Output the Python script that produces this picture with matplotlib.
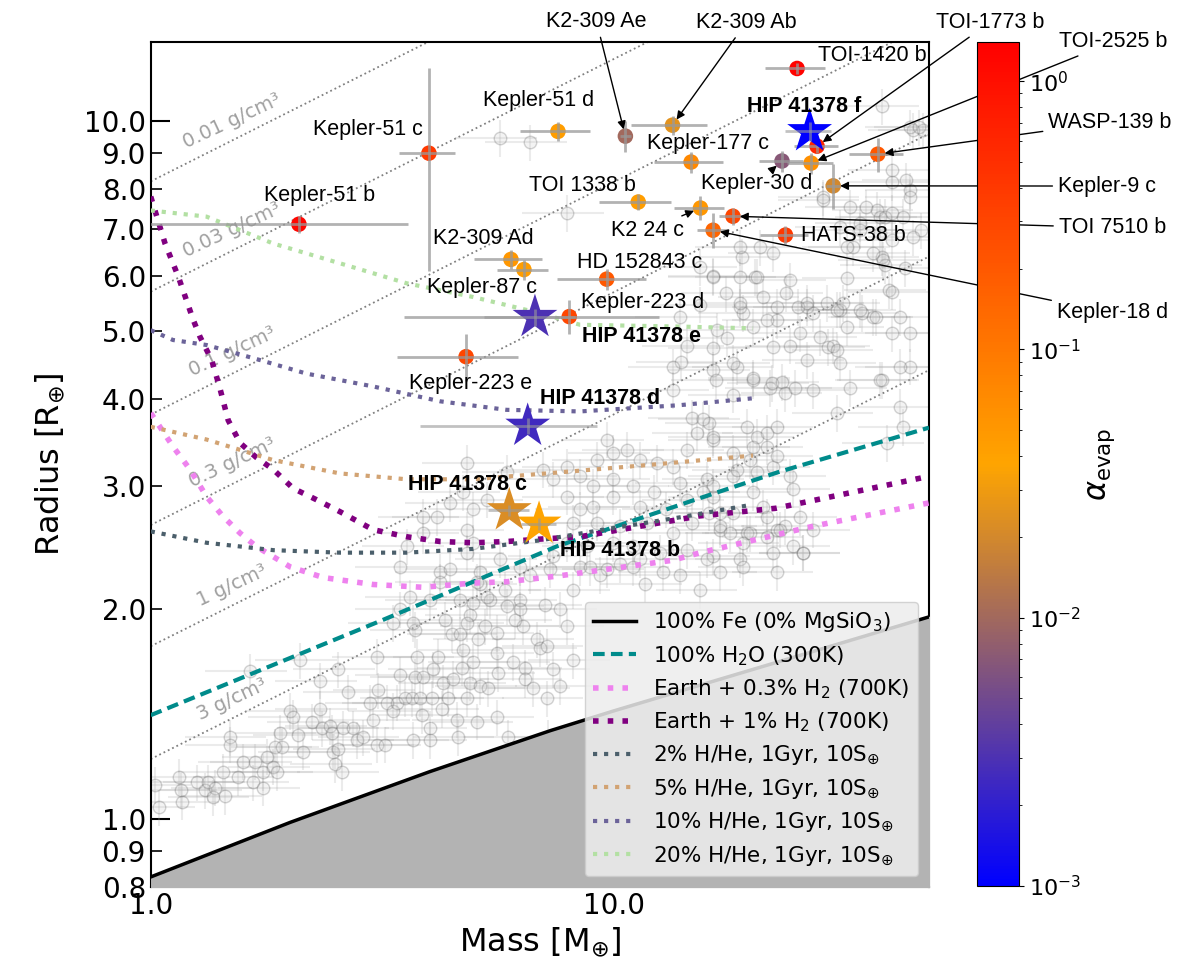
import numpy as np
import matplotlib
matplotlib.use('Agg')
import matplotlib.pyplot as plt
from matplotlib.colors import LinearSegmentedColormap, LogNorm
from matplotlib.cm import ScalarMappable
from matplotlib.ticker import NullFormatter

# ---------------- data ----------------
# composition curves (mass [Me], radius [Re])
fe_mass = [1.0, 2.0, 4.0, 7.3, 10.0, 20.0, 48.0]
fe_radius = [0.827, 0.99, 1.17, 1.34, 1.43, 1.64, 1.95]

h2o_mass = [1.0, 3.17, 7.53, 15.0, 22.9, 48.0]
h2o_radius = [1.41, 1.93, 2.46, 2.87, 3.15, 3.64]

h2_03_mass = [1.0, 1.117, 1.216, 1.32, 1.43, 1.56, 1.69, 2.0, 2.36, 3.02, 3.87, 4.97, 5.89, 7.53, 13.4, 15.4, 27.0, 48.0]
h2_03_radius = [3.82, 3.42, 3.17, 2.90, 2.72, 2.57, 2.46, 2.30, 2.22, 2.17, 2.15, 2.18, 2.19, 2.23, 2.35, 2.41, 2.63, 2.84]

h2_1_mass = [1.0, 1.074, 1.147, 1.236, 1.278, 1.354, 1.41, 1.47, 1.56, 1.69, 1.84, 2.03, 2.28, 2.56, 3.02, 3.57, 4.22, 4.97, 5.87, 6.93, 8.46, 15.3, 22.4, 48.0]
h2_1_radius = [7.8, 6.68, 5.99, 5.19, 4.91, 4.55, 4.15, 3.73, 3.46, 3.30, 3.17, 2.98, 2.87, 2.76, 2.60, 2.54, 2.50, 2.49, 2.50, 2.52, 2.54, 2.72, 2.79, 3.10]

hhe2_mass = [1.0, 1.32, 1.84, 2.56, 3.57, 4.97, 6.93, 9.5, 14.0, 19.7]
hhe2_radius = [2.585, 2.49, 2.43, 2.41, 2.41, 2.44, 2.51, 2.60, 2.71, 2.82]

hhe5_mass = [1.0, 1.32, 1.84, 2.56, 3.57, 4.97, 7.17, 12.0, 20.0]
hhe5_radius = [3.65, 3.50, 3.27, 3.13, 3.07, 3.07, 3.13, 3.22, 3.32]

hhe10_mass = [1.0, 1.117, 1.32, 1.72, 2.17, 3.02, 4.22, 5.87, 8.46, 13.9, 20.0]
hhe10_radius = [5.02, 4.86, 4.78, 4.55, 4.35, 4.17, 3.97, 3.86, 3.84, 3.92, 4.01]

hhe20_mass = [1.0, 1.32, 1.84, 2.56, 3.57, 4.97, 6.93, 8.46, 13.9, 20.0]
hhe20_radius = [7.45, 7.30, 6.68, 6.26, 5.86, 5.60, 5.31, 5.11, 5.08, 5.05]

# iso-density lines: radius at M = 1 and M = 48
density_labels = ['0.01 g/cm³', '0.03 g/cm³', '0.1 g/cm³', '0.3 g/cm³', '1 g/cm³', '3 g/cm³']
density_r_at_1 = [8.2, 5.7, 3.8, 2.64, 1.77, 1.22]
density_r_at_48 = [29.8, 20.7, 13.8, 9.6, 6.4, 4.4]
density_label_mass = 1.5
density_label_radius = [10.0, 6.98, 4.68, 3.24, 2.16, 1.485]

# known planets (grey background)
field_planets = [
    (1.02, 1.12), (1.04, 1.04), (1.15, 1.15), (1.16, 1.10), (1.17, 1.06), (1.26, 1.13), (1.31, 1.10), (1.33, 1.13),
    (1.38, 1.11), (1.36, 1.075), (1.43, 1.17), (1.45, 1.08), (1.48, 1.31), (1.48, 1.28), (1.54, 1.15), (1.58, 1.21),
    (1.66, 1.13), (1.68, 1.21), (1.75, 1.17), (1.75, 1.11), (1.78, 1.23), (1.84, 1.19), (1.86, 1.27), (1.87, 1.17),
    (1.92, 1.27), (1.90, 1.33), (2.0, 1.43), (2.03, 1.40), (2.08, 1.32), (2.13, 1.25), (2.23, 1.38), (2.32, 1.44),
    (2.34, 1.35), (2.44, 1.36), (2.46, 1.33), (2.48, 1.25), (2.50, 1.20), (2.54, 1.26), (2.54, 1.64), (2.59, 1.17),
    (2.60, 1.35), (2.67, 1.52), (2.73, 1.35), (2.79, 1.30), (2.87, 1.31), (2.98, 1.47), (3.02, 1.39), (3.08, 1.28),
    (3.08, 1.71), (3.10, 1.53), (3.20, 1.28), (3.24, 1.47), (3.33, 1.43), (3.40, 1.47), (3.46, 1.61), (3.54, 1.49),
    (3.66, 1.49), (3.68, 1.30), (3.72, 1.60), (3.76, 1.71), (3.82, 1.49), (3.85, 1.41), (3.87, 1.60), (4.01, 1.30),
    (4.01, 1.35), (4.05, 1.49), (4.07, 1.64), (4.17, 1.71), (4.26, 1.44), (4.28, 1.57), (4.38, 1.49), (4.47, 1.84),
    (4.49, 1.59), (4.58, 1.39), (4.60, 1.31), (4.66, 1.84), (4.70, 1.65), (4.73, 1.75), (4.82, 1.49), (4.89, 1.57),
    (4.97, 1.68), (5.06, 1.38), (5.09, 1.81), (5.14, 1.55), (5.27, 1.89), (5.35, 1.54), (5.60, 1.85), (5.60, 1.73),
    (5.60, 1.40), (5.63, 1.62), (5.91, 1.31), (6.06, 1.68), (6.36, 1.89), (6.43, 1.65), (6.43, 1.59), (6.70, 1.54),
    (6.83, 1.81), (6.93, 1.76), (7.21, 1.31), (1.64, 1.63), (2.10, 1.69), (2.32, 1.58), (7.17, 1.77), (8.17, 1.69),
    (7.39, 1.64), (7.66, 1.55), (7.17, 1.49),
    (14.0, 4.52), (16.4, 4.40), (16.6, 4.26), (20.0, 4.26), (21.8, 4.15), (13.4, 4.12), (14.8, 3.76), (16.1, 3.70),
    (19.4, 3.65), (20.4, 3.53), (22.5, 3.65), (21.4, 3.42), (15.1, 3.58), (16.4, 3.50), (9.67, 3.50), (10.7, 3.38),
    (9.97, 3.35), (9.2, 3.27), (11.4, 3.27), (12.4, 3.24), (13.4, 3.20), (14.4, 3.38), (7.93, 3.20), (7.05, 3.17),
    (5.88, 3.14), (8.46, 3.10), (9.97, 3.07), (7.39, 3.07), (9.02, 3.00), (11.0, 3.00), (12.2, 2.94), (13.9, 3.03),
    (15.9, 3.07), (18.1, 3.10), (20.0, 2.94), (22.1, 3.20), (4.82, 3.24), (4.15, 2.71), (4.73, 2.94), (4.97, 2.78),
    (5.32, 2.87), (7.93, 2.90), (8.46, 2.78), (9.02, 2.80), (9.97, 2.90), (11.4, 2.80), (13.0, 2.78), (14.4, 2.87),
    (16.4, 2.90), (18.1, 2.75), (21.0, 2.80), (8.17, 2.66), (9.2, 2.66), (10.3, 2.63), (11.8, 2.66), (13.4, 2.57),
    (14.8, 2.66), (17.0, 2.60), (19.4, 2.57), (7.93, 2.49), (8.76, 2.46), (9.97, 2.49), (11.0, 2.46), (12.6, 2.41),
    (14.4, 2.43), (16.4, 2.38), (18.7, 2.36), (22.1, 2.41), (8.46, 2.30), (9.67, 2.28), (11.0, 2.30), (12.8, 2.26),
    (6.28, 2.30), (7.39, 2.38), (3.58, 2.46), (3.87, 2.57), (3.46, 2.30), (4.22, 2.26), (4.82, 2.41), (5.14, 2.26),
    (7.29, 2.28), (8.17, 2.13), (7.66, 2.0), (7.93, 1.89), (8.89, 2.30), (11.4, 2.36),
    (5.82, 2.13), (6.28, 2.06), (6.6, 2.24), (7.11, 2.03), (6.12, 1.93), (5.68, 2.36), (5.40, 2.06), (5.14, 2.17),
    (4.66, 2.06), (4.89, 1.96), (4.01, 2.06), (4.32, 1.93), (3.72, 1.87), (3.46, 2.0),
    (9.34, 2.24), (10.3, 2.32), (11.7, 2.17), (13.9, 2.24), (15.4, 2.13),
    (3.87, 2.71), (4.43, 2.84), (4.82, 2.60), (4.97, 2.49), (4.22, 2.19), (4.43, 2.28), (5.06, 2.19), (5.32, 2.08),
    (5.88, 2.02), (6.28, 2.0), (4.97, 2.04), (4.82, 1.91), (3.68, 1.91), (3.33, 1.91), (3.63, 2.08),
    (38.0, 10.5), (44.3, 9.7), (46.5, 9.7), (39.9, 8.18), (43.6, 7.96), (43.6, 7.78), (46.1, 6.98), (28.3, 7.78),
    (37.0, 7.46), (37.6, 7.29), (38.6, 7.29), (34.0, 7.15), (44.3, 6.82), (32.9, 6.60), (38.0, 6.39), (38.6, 6.22),
    (42.6, 6.16), (39.4, 5.73), (40.0, 5.70), (31.9, 5.96), (18.9, 6.39), (20.2, 5.98), (16.4, 6.0), (21.0, 5.60),
    (24.0, 5.92), (26.2, 5.42), (25.0, 5.42), (27.0, 5.31), (28.9, 5.49), (30.8, 5.37), (34.4, 5.31), (36.3, 5.24),
    (41.5, 5.24), (43.6, 4.97), (40.0, 4.97), (31.9, 5.07), (29.1, 4.75), (29.8, 4.77), (30.3, 4.70), (25.3, 4.97),
    (24.0, 4.77), (26.2, 4.55), (30.8, 4.51), (27.9, 4.91), (22.5, 5.19), (19.0, 5.31), (22.5, 5.42), (17.6, 4.89),
    (16.4, 4.73), (18.5, 4.45), (20.0, 4.29), (22.0, 4.22), (23.1, 4.23), (23.5, 4.08), (24.7, 4.15), (26.9, 4.12),
    (18.1, 4.06), (43.6, 4.45), (38.0, 4.26), (21.4, 3.58), (20.0, 3.42), (19.7, 3.27), (20.4, 3.14), (22.5, 3.31),
    (24.0, 3.10), (24.4, 2.97), (25.3, 2.71), (25.7, 2.41), (27.0, 2.60), (23.5, 2.63), (18.1, 3.35), (18.5, 3.17),
    (16.4, 3.53), (15.6, 3.74), (16.4, 3.00), (16.1, 2.75), (17.0, 2.63), (17.8, 2.57), (19.0, 2.49), (21.4, 2.54),
    (22.5, 2.60), (41.5, 3.90), (42.1, 3.65), (39.0, 3.46), (30.3, 3.82), (32.4, 4.15), (37.6, 4.26), (41.5, 4.45),
    (43.6, 9.8), (45.7, 9.8), (40.0, 8.51), (42.9, 8.23), (28.3, 7.71), (32.4, 7.53), (35.1, 7.53), (40.0, 7.39),
    (42.1, 7.29), (30.8, 7.05), (34.0, 6.98), (37.6, 6.92), (40.0, 6.76), (18.7, 6.60), (20.7, 6.60), (22.1, 6.47),
    (31.9, 6.60), (36.3, 6.47), (38.2, 6.33), (15.4, 6.18), (16.4, 5.98), (18.7, 5.98), (20.4, 5.98), (23.6, 5.67),
    (26.2, 5.49), (30.3, 5.37), (31.3, 5.49), (34.0, 5.37), (36.9, 5.24), (18.7, 5.42), (17.5, 5.67), (21.4, 5.19),
    (7.93, 7.39), (5.68, 9.46), (6.6, 9.33), (18.7, 5.49), (20.0, 5.07), (15.4, 5.46), (13.9, 5.24), (16.7, 5.02),
    (22.1, 4.75), (14.4, 4.77), (13.4, 4.45), (18.1, 4.51),
    (15.6, 2.94), (17.0, 2.75), (19.7, 2.57), (21.4, 2.71), (22.9, 2.60), (24.4, 2.46), (25.7, 2.41), (22.5, 2.26),
    (19.0, 2.30), (17.0, 2.26), (15.9, 2.36),
]
field_mass_frac = 0.2
field_radius_frac = 0.06

# highlighted planets
planet_names = ['Kepler-51 b', 'Kepler-51 c', 'Kepler-51 d', 'K2-309 Ae', 'K2-309 Ab', 'TOI-1420 b',
                'TOI-1773 b', 'TOI-2525 b', 'Kepler-30 d', 'WASP-139 b', 'Kepler-9 c', 'Kepler-177 c',
                'TOI 1338 b', 'K2 24 c', 'TOI 7510 b', 'Kepler-18 d', 'HATS-38 b', 'HD 152843 c',
                'K2-309 Ad', 'Kepler-87 c', 'Kepler-223 d', 'Kepler-223 e']
planet_mass = [2.09, 3.99, 7.58, 10.6, 13.4, 24.9, 27.5, 26.7, 23.1, 37.2, 29.8, 14.7,
               11.3, 15.4, 18.1, 16.4, 23.5, 9.66, 6.0, 6.4, 8.02, 4.8]
planet_radius = [7.12, 9.0, 9.67, 9.52, 9.87, 11.9, 9.21, 8.71, 8.77, 8.97, 8.08, 8.74,
                 7.66, 7.51, 7.31, 6.98, 6.87, 5.94, 6.34, 6.13, 5.25, 4.6]
planet_mass_err = [1.5, 0.55, 1.3, 0.3, 2.5, 3.7, 3.0, 3.0, 2.5, 5.0, 1.0, 2.5,
                   2.0, 1.9, 1.2, 1.3, 2.8, 2.1, 1.0, 0.8, 4.5, 1.4]
planet_radius_err = [0.2, 2.9, 0.3, 0.5, 0.3, 0.2, 0.2, 0.3, 0.3, 0.5, 0.6, 0.3,
                     0.2, 0.3, 0.2, 0.4, 0.2, 0.2, 0.2, 0.2, 0.3, 0.35]
planet_alpha = [1.2, 0.4, 0.045, 0.01, 0.025, 1.3, 0.6, 0.06, 0.007, 0.2, 0.02, 0.07,
                0.045, 0.05, 0.3, 0.15, 0.4, 0.2, 0.05, 0.045, 0.3, 0.3]

hip_names = ['HIP 41378 b', 'HIP 41378 c', 'HIP 41378 d', 'HIP 41378 e', 'HIP 41378 f']
hip_mass = [6.9, 5.95, 6.52, 6.76, 26.5]
hip_radius = [2.65, 2.77, 3.66, 5.24, 9.67]
hip_mass_err = [0.6, 0.6, 2.7, 1.5, 3.0]
hip_radius_err = [0.05, 0.05, 0.1, 0.15, 0.3]
hip_alpha = [0.037, 0.022, 0.0025, 0.003, 0.001]

# label placement (offsets in points from the planet)
label_offsets = {
    'Kepler-51 b': (15, 21), 'Kepler-51 c': (-44, 17), 'Kepler-51 d': (-14, 22),
    'TOI-1420 b': (54, 9), 'Kepler-177 c': (12, 13), 'TOI 1338 b': (-40, 12),
    'HATS-38 b': (49, 0), 'HD 152843 c': (24, 12), 'K2-309 Ad': (-20, 15),
    'Kepler-87 c': (-30, -13), 'Kepler-223 d': (53, 10), 'Kepler-223 e': (3, -19),
    'HIP 41378 b': (58, -19), 'HIP 41378 c': (-30, 19), 'HIP 41378 d': (52, 20),
    'HIP 41378 e': (77, -14), 'HIP 41378 f': (-4, 18),
}
inner_arrow_offsets = {'Kepler-30 d': (-18, -16), 'K2 24 c': (-38, -16)}
outer_label_pos = {
    'K2-309 Ae': (0.497, 0.978), 'K2-309 Ab': (0.622, 0.977), 'TOI-1773 b': (0.825, 0.977),
    'TOI-2525 b': (0.928, 0.957), 'WASP-139 b': (0.925, 0.874), 'Kepler-9 c': (0.9225, 0.808),
    'TOI 7510 b': (0.927, 0.765), 'Kepler-18 d': (0.927, 0.677),
}

# ---------------- figure ----------------
fig = plt.figure(figsize=(12, 9.69), dpi=100)
ax = fig.add_axes([0.1256, 0.0846, 0.6486, 0.8724])
cax = fig.add_axes([0.8142, 0.0857, 0.035, 0.871])

cmap = LinearSegmentedColormap.from_list('evap', ['blue', 'orange', 'red'])
norm = LogNorm(vmin=1e-3, vmax=1.4)

ax.set_xscale('log')
ax.set_yscale('log')

# iso-density lines
for lab, r1, r48, rl in zip(density_labels, density_r_at_1, density_r_at_48, density_label_radius):
    ax.plot([1.0, 48.0], [r1, r48], ls=':', color='gray', lw=1.3, zorder=1)
    ax.text(density_label_mass, rl, lab, color='#a0a0a0', fontsize=14, rotation=25,
            rotation_mode='anchor', ha='center', va='center', zorder=1)

# field planets
fm, fr = np.array(field_planets).T
ax.errorbar(fm, fr, xerr=field_mass_frac * fm, yerr=field_radius_frac * fr, fmt='o', ms=9,
            mfc='0.8', mec='0.25', mew=1.0, ecolor='0.65', elinewidth=1.5, alpha=0.22, zorder=2)

# composition curves
ax.fill_between(fe_mass, fe_radius, 0.1, color='0.7', zorder=3)
ax.plot(fe_mass, fe_radius, color='black', lw=2.5, zorder=4, label='100% Fe (0% MgSiO$_3$)')
ax.plot(h2o_mass, h2o_radius, color='#008b8b', lw=3, ls=(0, (2.8, 1.5)), zorder=4, label='100% H$_2$O (300K)')
ax.plot(h2_03_mass, h2_03_radius, color='violet', lw=4, ls=':', zorder=4, label='Earth + 0.3% H$_2$ (700K)')
ax.plot(h2_1_mass, h2_1_radius, color='purple', lw=4, ls=':', zorder=4, label='Earth + 1% H$_2$ (700K)')
ax.plot(hhe2_mass, hhe2_radius, color='#4b5f6b', lw=3, ls=':', zorder=4, label=r'2% H/He, 1Gyr, 10S$_{\oplus}$')
ax.plot(hhe5_mass, hhe5_radius, color='#d2a373', lw=3, ls=':', zorder=4, label=r'5% H/He, 1Gyr, 10S$_{\oplus}$')
ax.plot(hhe10_mass, hhe10_radius, color='#6b6399', lw=3, ls=':', zorder=4, label=r'10% H/He, 1Gyr, 10S$_{\oplus}$')
ax.plot(hhe20_mass, hhe20_radius, color='#b3e0a3', lw=3, ls=':', zorder=4, label=r'20% H/He, 1Gyr, 10S$_{\oplus}$')

# highlighted planets
ax.scatter(planet_mass, planet_radius, c=planet_alpha, cmap=cmap, norm=norm, s=125, zorder=5, linewidths=0)
ax.errorbar(planet_mass, planet_radius, xerr=planet_mass_err, yerr=planet_radius_err, fmt='none',
            ecolor='0.6', elinewidth=2, alpha=0.75, zorder=6)

ax.scatter(hip_mass, hip_radius, c=hip_alpha, cmap=cmap, norm=norm, marker='*', s=1150, zorder=7, linewidths=0)
ax.errorbar(hip_mass, hip_radius, xerr=hip_mass_err, yerr=hip_radius_err, fmt='none',
            ecolor='0.6', elinewidth=2, alpha=0.6, zorder=8)

lab_font = 'Liberation Sans'
arrow_kw = dict(arrowstyle='-|>', color='black', lw=1.0, mutation_scale=12, shrinkA=2, shrinkB=5)

for name, m, r in zip(planet_names + hip_names, planet_mass + hip_mass, planet_radius + hip_radius):
    bold = 'bold' if name.startswith('HIP') else 'normal'
    if name in label_offsets:
        ax.annotate(name, (m, r), xytext=label_offsets[name], textcoords='offset points',
                    ha='center', va='center', fontsize=15.5, family=lab_font, fontweight=bold, zorder=9)
    elif name in inner_arrow_offsets:
        ax.annotate(name, (m, r), xytext=inner_arrow_offsets[name], textcoords='offset points',
                    ha='center', va='center', fontsize=15.5, family=lab_font, zorder=9, arrowprops=arrow_kw)
    elif name in outer_label_pos:
        ax.annotate(name, (m, r), xytext=outer_label_pos[name], textcoords='figure fraction',
                    ha='center', va='center', fontsize=15.5, family=lab_font, zorder=9,
                    arrowprops=arrow_kw, annotation_clip=False)

# axes styling
ax.set_xlim(1.0, 48.0)
ax.set_ylim(0.8, 13.0)
ax.set_xticks([1, 10])
ax.set_xticklabels(['1.0', '10.0'])
ax.set_xticks([2, 3, 4, 5, 6, 7, 8, 9, 20, 30, 40], minor=True)
ax.xaxis.set_minor_formatter(NullFormatter())
ax.set_yticks([1, 10])
ax.set_yticklabels(['1.0', '10.0'])
y_minor = [0.8, 0.9, 2, 3, 4, 5, 6, 7, 8, 9]
ax.set_yticks(y_minor, minor=True)
ax.set_yticklabels(['%.1f' % v for v in y_minor], minor=True)

ax.tick_params(which='both', direction='in', labelsize=20, top=False, right=False)
ax.tick_params(axis='y', which='major', length=14, width=1.5)
ax.tick_params(axis='y', which='minor', length=8, width=1.2)
ax.tick_params(axis='x', which='both', length=7, width=1.2)
for sp in ax.spines.values():
    sp.set_linewidth(1.5)

ax.set_xlabel(r'Mass [M$_{\oplus}$]', fontsize=23)
ax.set_ylabel(r'Radius [R$_{\oplus}$]', fontsize=23, labelpad=12)

ax.legend(loc='lower right', fontsize=15.5, facecolor='0.93', framealpha=0.85,
          edgecolor='0.8', labelspacing=0.45)

# colorbar
sm = ScalarMappable(norm=norm, cmap=cmap)
cbar = fig.colorbar(sm, cax=cax)
cbar.ax.tick_params(labelsize=16)
cbar.set_label(r'$\alpha_{\rm evap}$', fontsize=22)

fig.savefig('out.png', dpi=100)
